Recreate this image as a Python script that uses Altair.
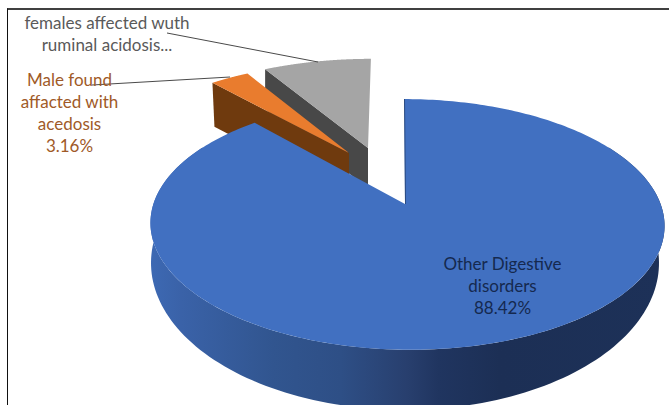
import math
import altair as alt
import pandas as pd

# Slice values, in percent, clockwise from twelve o'clock
slice_names = ["Other Digestive disorders", "Male found affacted with acedosis", "females affected wuth ruminal acidosis"]
slice_shares = [88.42, 3.16, 8.42]

W, H = 669, 405
FONT = "Lato"

# Perspective of each slice's top plane: apex position, horizontal and vertical reach, tilt
TOP_PLANE = {
    "blue": dict(x0=407, y0=204, a=253.6, b=122, k=0.163, s=-3),
    "orange": dict(x0=349, y0=153, a=236, b=108, k=0.2, s=0),
    "grey": dict(x0=368, y0=148, a=245, b=107, k=0.2, s=3.5),
}
BLUE_BASE = dict(x0=405, y0=239, a=250.6, b=143, k=0.163, s=0)
BLUE_APEX = (405, 204)
WALL_DROP = {"orange": 44, "grey": 40}


def rim(plane, deg):
    t = math.radians(deg)
    u, v = math.sin(t), math.cos(t)
    w = 1 + plane["k"] * v
    return (plane["x0"] + (plane["a"] * u + plane["s"] * v) / w,
            plane["y0"] - plane["b"] * v / w)


def arc_points(plane, start, end, n=160):
    return [rim(plane, start + (end - start) * i / n) for i in range(n + 1)]


def polygon(points, fill):
    frame = pd.DataFrame(points, columns=["x", "y"])
    frame["i"] = range(len(frame))
    return alt.Chart(frame).mark_line(filled=True, fill=fill, strokeWidth=0, interpolate="linear", clip=True).encode(
        x=alt.X("x:Q", scale=X_SCALE, axis=None),
        y=alt.Y("y:Q", scale=Y_SCALE, axis=None),
        order="i:Q",
    )


def segment(x1, y1, x2, y2, color, width=1.0):
    frame = pd.DataFrame({"x": [x1, x2], "y": [y1, y2], "i": [0, 1]})
    return alt.Chart(frame).mark_line(color=color, strokeWidth=width).encode(
        x=alt.X("x:Q", scale=X_SCALE, axis=None),
        y=alt.Y("y:Q", scale=Y_SCALE, axis=None),
        order="i:Q",
    )


def label(lines, x, y, color, size=17, step=22):
    frame = pd.DataFrame({"text": lines, "x": x, "y": [y + step * i for i in range(len(lines))]})
    return alt.Chart(frame).mark_text(font=FONT, fontSize=size, color=color, align="center", baseline="middle").encode(
        x=alt.X("x:Q", scale=X_SCALE, axis=None),
        y=alt.Y("y:Q", scale=Y_SCALE, axis=None),
        text="text:N",
    )


X_SCALE = alt.Scale(domain=[0, W], range=[0, W], nice=False, zero=False)
Y_SCALE = alt.Scale(domain=[0, H], range=[0, H], nice=False, zero=False)

# Slice boundaries in degrees, from the shares
total = sum(slice_shares)
blue_end = 360 * slice_shares[0] / total
orange_end = blue_end + 360 * slice_shares[1] / total
grey_end = orange_end + 360 * slice_shares[2] / total

layers = []

# Grey slice: cut wall, then top face
g = TOP_PLANE["grey"]
g_corner = rim(g, orange_end)
g_apex = (g["x0"], g["y0"])
d = WALL_DROP["grey"]
layers.append(polygon([g_corner, g_apex, (g_apex[0], g_apex[1] + d), (g_corner[0], g_corner[1] + d)], "#484848"))
layers.append(polygon([g_apex] + arc_points(g, orange_end, grey_end), "#A5A5A5"))

# Orange slice: cut wall, then top face
o = TOP_PLANE["orange"]
o_corner = rim(o, blue_end)
o_apex = (o["x0"], o["y0"])
d = WALL_DROP["orange"]
layers.append(polygon([o_corner, o_apex, (o_apex[0], o_apex[1] + d), (o_corner[0] + 2, o_corner[1] + d)], "#6F3A0E"))
layers.append(polygon([o_apex] + arc_points(o, blue_end, orange_end), "#E97C2E"))

# Blue slice: curved side wall with a left-to-right shade, then top face
b = TOP_PLANE["blue"]
wall_fill = alt.Gradient(
    gradient="linear", x1=0, x2=1, y1=0, y2=0,
    stops=[
        alt.GradientStop(color="#3D69B3", offset=0),
        alt.GradientStop(color="#3A62A8", offset=0.06),
        alt.GradientStop(color="#31558F", offset=0.24),
        alt.GradientStop(color="#2E4F86", offset=0.37),
        alt.GradientStop(color="#283F6E", offset=0.5),
        alt.GradientStop(color="#203560", offset=0.56),
        alt.GradientStop(color="#1C2F55", offset=0.68),
        alt.GradientStop(color="#1D3158", offset=1),
    ],
)
layers.append(polygon(arc_points(b, 60, 300) + arc_points(BLUE_BASE, 300, 60), wall_fill))
layers.append(polygon([BLUE_APEX] + arc_points(b, 0, blue_end, 300), "#4170C1"))
layers.append(segment(404.5, 99, 405.5, 204, "#2A4A80", 1))

# Leader lines
layers.append(segment(167, 33, 318, 62, "#4A4A4A"))
layers.append(segment(92, 85, 230, 77, "#4A4A4A"))

# Labels
layers.append(label(["females affected wuth", "ruminal acidosis..."], 107, 24, "#5A5A5A"))
layers.append(label(["Male found", "affacted with", "acedosis", "3.16%"], 69.5, 81, "#A05A28"))
layers.append(label(["Other Digestive", "disorders", "88.42%"], 502.5, 265, "#15294F"))

# Outer frame along the top and left
layers.append(segment(7, 9, 669, 9, "#000000", 1.3))
layers.append(segment(7.5, 8.5, 7.5, 405, "#111111", 1))

chart = alt.layer(*layers).properties(
    width=W, height=H, padding=0, autosize=alt.AutoSizeParams(type="none"),
).configure_view(stroke=None)

chart.save("out.html", embed_options={"renderer": "svg", "actions": False})
